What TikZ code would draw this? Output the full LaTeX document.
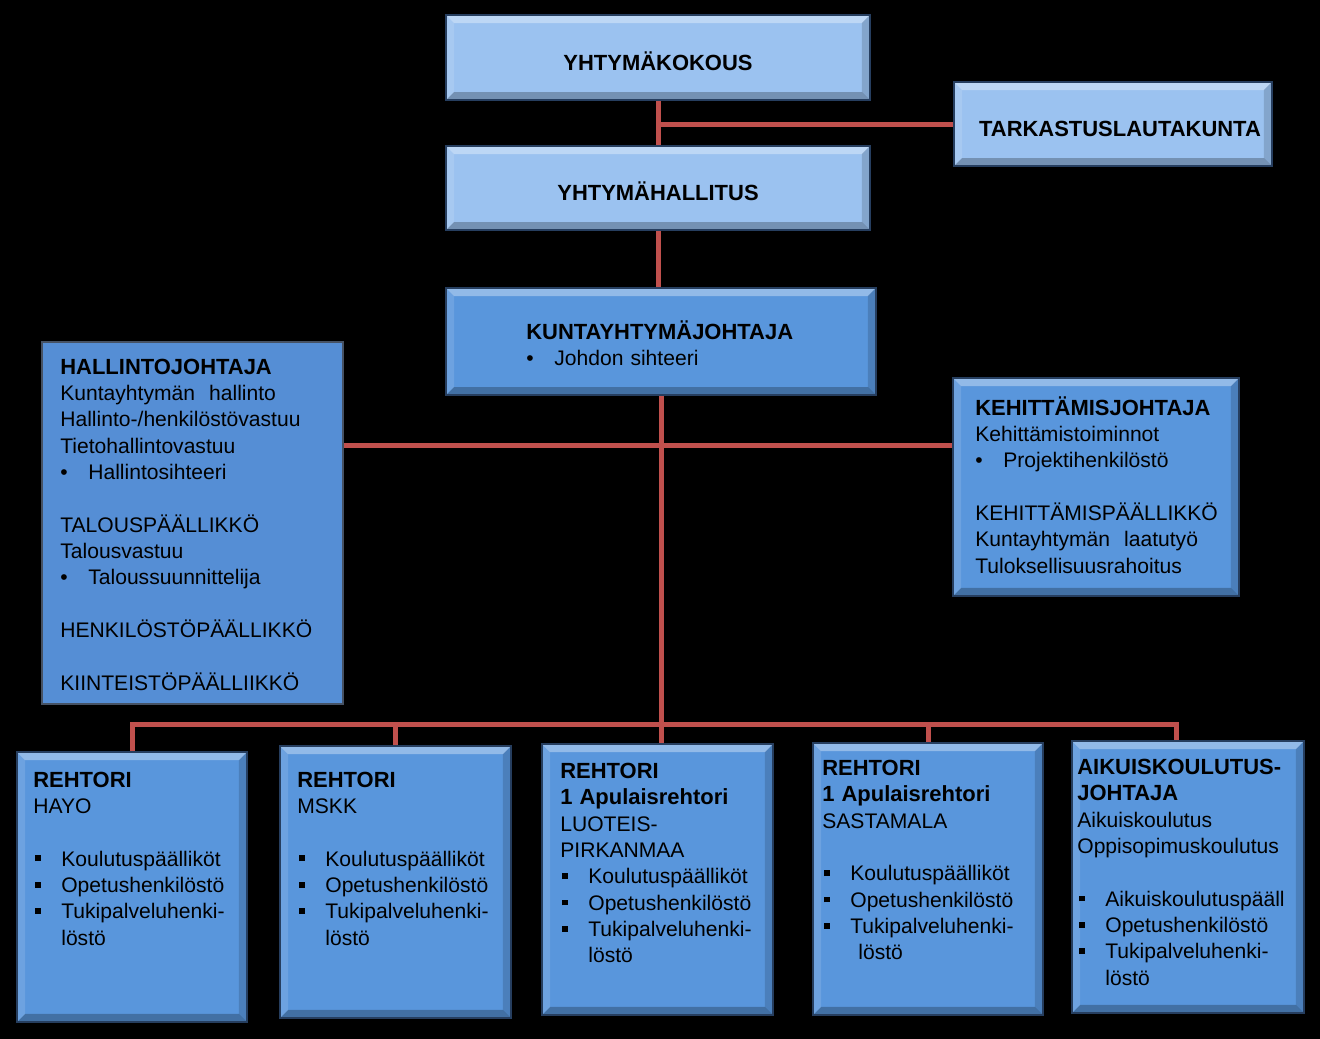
\documentclass[tikz,border=0pt]{standalone}
\usepackage{fontspec}
\setmainfont{Liberation Sans}
\usepackage{xcolor}
\usetikzlibrary{positioning,calc}

\definecolor{linkred}{RGB}{192,80,77}
\definecolor{paleblue}{RGB}{155,194,240}
\definecolor{midblue}{RGB}{89,150,220}
\definecolor{flatblue}{RGB}{85,142,213}
\definecolor{boxedge}{RGB}{38,62,95}
\definecolor{flatedge}{RGB}{70,82,100}

\newcommand{\blt}{\makebox[0.56cm][l]{•}}
\newcommand{\sqb}{\makebox[0.56cm][l]{\hspace{0.04cm}\rule[2.8pt]{3.3pt}{3.3pt}}}
\newcommand{\indt}{\hspace*{0.56cm}}
\newcommand{\hdr}[1]{{\fontsize{12.5}{15}\selectfont\bfseries #1}}

\begin{document}
\begin{tikzpicture}[
    x=0.02cm, y=-0.02cm,
    bevel/.style={draw=boxedge, line width=1.2pt, inner sep=0pt, path picture={
        \fill[white, opacity=0.35] (path picture bounding box.north west) -- (path picture bounding box.north east)
            -- ([shift={(-0.16cm,-0.16cm)}]path picture bounding box.north east)
            -- ([shift={(0.16cm,-0.16cm)}]path picture bounding box.north west) -- cycle;
        \fill[black, opacity=0.25] (path picture bounding box.south west) -- (path picture bounding box.south east)
            -- ([shift={(-0.16cm,0.16cm)}]path picture bounding box.south east)
            -- ([shift={(0.16cm,0.16cm)}]path picture bounding box.south west) -- cycle;
        \fill[white, opacity=0.12] (path picture bounding box.north west) -- (path picture bounding box.south west)
            -- ([shift={(0.16cm,0.16cm)}]path picture bounding box.south west)
            -- ([shift={(0.16cm,-0.16cm)}]path picture bounding box.north west) -- cycle;
        \fill[black, opacity=0.15] (path picture bounding box.north east) -- (path picture bounding box.south east)
            -- ([shift={(-0.16cm,0.16cm)}]path picture bounding box.south east)
            -- ([shift={(-0.16cm,-0.16cm)}]path picture bounding box.north east) -- cycle;
    }},
    topbox/.style={bevel, fill=paleblue, text height=0.5cm, text depth=0pt, font=\fontsize{12.5}{15}\selectfont\bfseries},
    unitbox/.style={bevel, fill=midblue},
    flatbox/.style={draw=flatedge, line width=0.8pt, fill=flatblue, inner sep=0pt},
    boxtext/.style={anchor=base west, inner sep=0pt, text width=5.8cm, align=left, font=\fontsize{12}{15}\selectfont},
    link/.style={draw=linkred, line width=0.1cm}
]
    \useasboundingbox (0,0) rectangle (1320,1039);
    \fill[black] (0,0) rectangle (1320,1039);

    % Governing bodies
    \node[topbox, minimum width=8.48cm, minimum height=1.7cm] (kokous) at (658,57.5) {YHTYMÄKOKOUS};
    \node[topbox, minimum width=8.48cm, minimum height=1.68cm] (hallitus) at (658,188) {YHTYMÄHALLITUS};
    \node[topbox, minimum width=6.36cm, minimum height=1.68cm] (tarkastus) at (1113,124) {\hspace*{0.28cm}TARKASTUSLAUTAKUNTA};

    % Director
    \node[unitbox, minimum width=8.6cm, minimum height=2.14cm] (johtaja) at (661,341.5) {};
    \node[boxtext] (johtajatxt) at (526,339.5) {\hdr{KUNTAYHTYMÄJOHTAJA}\\
        \blt Johdon sihteeri};

    % Staff
    \node[flatbox, minimum width=6.02cm, minimum height=7.24cm] (hallinto) at (192.5,523) {};
    \node[boxtext] (hallintotxt) at (60,374) {\hdr{HALLINTOJOHTAJA}\\
        Kuntayhtymän~ hallinto\\
        Hallinto-/henkilöstövastuu\\
        Tietohallintovastuu\\
        \blt Hallintosihteeri\\[15pt]
        TALOUSPÄÄLLIKKÖ\\
        Talousvastuu\\
        \blt Taloussuunnittelija\\[15pt]
        HENKILÖSTÖPÄÄLLIKKÖ\\[15pt]
        KIINTEISTÖPÄÄLLIIKKÖ};

    \node[unitbox, minimum width=5.72cm, minimum height=4.36cm] (kehitys) at (1096,487) {};
    \node[boxtext] (kehitystxt) at (975,415) {\hdr{KEHITTÄMISJOHTAJA}\\
        Kehittämistoiminnot\\
        \blt Projektihenkilöstö\\[15pt]
        KEHITTÄMISPÄÄLLIKKÖ\\
        Kuntayhtymän~ laatutyö\\
        Tuloksellisuusrahoitus};

    % Units
    \node[unitbox, minimum width=4.6cm, minimum height=5.4cm] (hayo) at (132,887) {};
    \node[boxtext] (hayotxt) at (33,787) {\hdr{REHTORI}\\
        HAYO\\[15pt]
        \sqb Koulutuspäälliköt\\
        \sqb Opetushenkilöstö\\
        \sqb Tukipalveluhenki-\\
        \indt löstö};

    \node[unitbox, minimum width=4.62cm, minimum height=5.44cm] (mskk) at (395.5,882) {};
    \node[boxtext] (mskktxt) at (297,787) {\hdr{REHTORI}\\
        MSKK\\[15pt]
        \sqb Koulutuspäälliköt\\
        \sqb Opetushenkilöstö\\
        \sqb Tukipalveluhenki-\\
        \indt löstö};

    \node[unitbox, minimum width=4.62cm, minimum height=5.42cm] (luoteis) at (657.5,879.5) {};
    \node[boxtext] (luoteistxt) at (560,778.5) {\hdr{REHTORI}\\
        \hdr{1 Apulaisrehtori}\\
        LUOTEIS-\\
        PIRKANMAA\\
        \sqb Koulutuspäälliköt\\
        \sqb Opetushenkilöstö\\
        \sqb Tukipalveluhenki-\\
        \indt löstö};

    \node[unitbox, minimum width=4.6cm, minimum height=5.44cm] (sastamala) at (928,879) {};
    \node[boxtext] (sastamalatxt) at (822,775.5) {\hdr{REHTORI}\\
        \hdr{1 Apulaisrehtori}\\
        SASTAMALA\\[15pt]
        \sqb Koulutuspäälliköt\\
        \sqb Opetushenkilöstö\\
        \sqb Tukipalveluhenki-\\
        \indt\hspace*{0.16cm}löstö};

    \node[unitbox, minimum width=4.64cm, minimum height=5.44cm] (aikuis) at (1188,877) {};
    \node[boxtext] (aikuistxt) at (1077,774.5) {\hdr{AIKUISKOULUTUS-}\\
        \hdr{JOHTAJA}\\
        Aikuiskoulutus\\
        Oppisopimuskoulutus\\[15pt]
        \sqb Aikuiskoulutuspääll\\
        \sqb Opetushenkilöstö\\
        \sqb Tukipalveluhenki-\\
        \indt löstö};

    % Links
    \coordinate (staffbus) at (660,445);
    \coordinate (unitbus) at (660,724);
    \draw[link] (kokous.south) -- (hallitus.north);
    \draw[link] (tarkastus.west) -- (tarkastus.west -| kokous.south);
    \draw[link] (hallitus.south) -- (hallitus.south |- johtaja.north);
    \draw[link] (johtaja.south) -- (johtaja.south |- luoteis.north);
    \draw[link] (hallinto.east |- staffbus) -- (kehitys.west |- staffbus);
    \draw[link] (hayo.north) -- (hayo.north |- unitbus) -- ([xshift=-0.24cm]aikuis.north |- unitbus) -- ([xshift=-0.24cm]aikuis.north);
    \foreach \u in {mskk, sastamala}
        \draw[link] (\u.north) -- (\u.north |- unitbus);
\end{tikzpicture}
\end{document}
